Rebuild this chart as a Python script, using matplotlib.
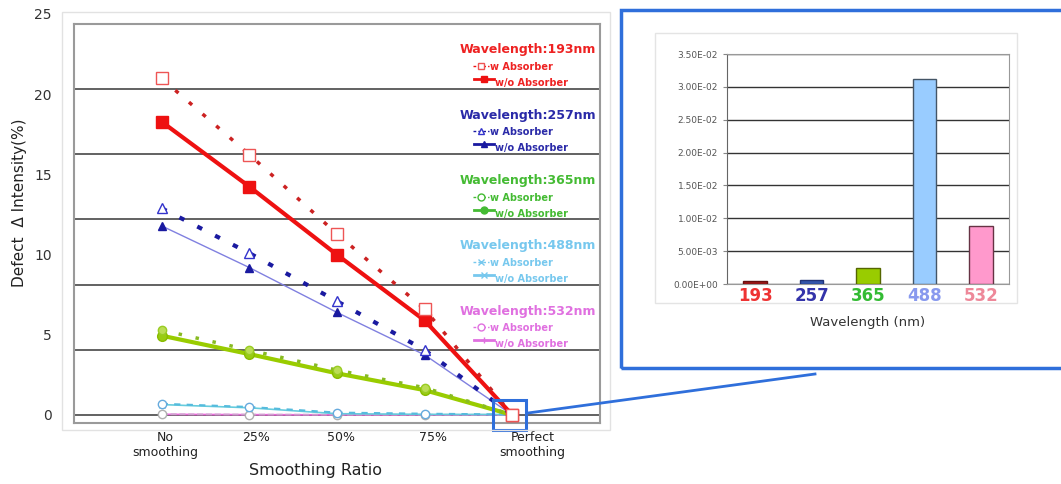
import numpy as np
import matplotlib
matplotlib.use("Agg")
import matplotlib.pyplot as plt
from matplotlib.lines import Line2D
from matplotlib.patches import Rectangle
from matplotlib.ticker import FuncFormatter

W, H = 1061, 484

# ---- data -------------------------------------------------------------
ratios = ["No\nsmoothing", "25%", "50%", "75%", "Perfect\nsmoothing"]
wavelengths = ["193", "257", "365", "488", "532"]

# residual defect intensity at perfect smoothing (inset bars)
perfect_vals = [4.0e-4, 6.0e-4, 2.4e-3, 3.12e-2, 8.8e-3]

w193_abs = [21.0, 16.25, 11.3, 6.6, perfect_vals[0]]
w193_noabs = [18.3, 14.25, 10.0, 5.9, perfect_vals[0]]
w257_abs = [12.9, 10.1, 7.1, 4.05, perfect_vals[1]]
w257_noabs = [11.8, 9.2, 6.4, 3.75, perfect_vals[1]]
w365_abs = [5.3, 4.05, 2.8, 1.7, perfect_vals[2]]
w365_noabs = [4.95, 3.8, 2.6, 1.55, perfect_vals[2]]
w488_abs = [0.7, 0.5, 0.15, 0.08, perfect_vals[3]]
w488_noabs = [0.65, 0.45, 0.08, 0.04, perfect_vals[3]]
w532_abs = [0.05, 0.03, 0.02, 0.02, perfect_vals[4]]
w532_noabs = [0.04, 0.02, 0.01, 0.01, perfect_vals[4]]

grid_levels = [0, 4.07, 8.14, 12.2, 16.27, 20.34]


def fx(x):
    return x / W


def fy(y):
    return 1 - y / H


fig = plt.figure(figsize=(W / 100, H / 100), dpi=100)
fig.patch.set_facecolor("white")

# faint outer frame of left chart
fig.add_artist(Rectangle((fx(62), fy(430)), fx(610) - fx(62), fy(12) - fy(430),
                         transform=fig.transFigure, fill=False,
                         edgecolor="#e2e2e2", lw=1))

ax = fig.add_axes([fx(74), fy(423), fx(600) - fx(74), fy(24) - fy(423)])
x = np.arange(len(ratios))
ax.set_xlim(-1, 5)
ax.set_ylim(-0.5, 24.4)
for g in grid_levels:
    ax.axhline(g, color="#555555", lw=1.3, zorder=1)
for s in ax.spines.values():
    s.set_color("#9a9a9a")
    s.set_linewidth(1.5)

# light series (underneath)
ax.plot(x, w532_noabs, "-", color="#ee66dd", lw=1.2, marker="+", ms=6, zorder=2)
ax.plot(x, w532_abs, "--", color="#cfa0cf", lw=1.2, marker="o", ms=6,
        mfc="white", mec="#b0b0b0", zorder=2)
ax.plot(x, w488_noabs, "-", color="#66ccdd", lw=1.2, marker="x", ms=5, zorder=3)
ax.plot(x, w488_abs, ls=(0, (3, 3)), color="#55bbdd", lw=1.5, marker="o",
        ms=6, mfc="white", mec="#66aadd", zorder=3)

ax.plot(x, w365_noabs, "-", color="#99cc00", lw=3, marker="o", ms=7,
        mfc="#99cc11", mec="#88bb00", zorder=4)
ax.plot(x, w365_abs, ls=(0, (1, 4)), color="#88bb22", lw=2.5, marker="o",
        ms=6, mfc="#bbdd55", mec="#99cc22", zorder=4)

ax.plot(x, w257_noabs, "-", color="#8080e0", lw=1, marker="^", ms=6,
        mfc="#1a1aa0", mec="#1a1aa0", zorder=5)
ax.plot(x, w257_abs, ls=(0, (1.3, 3.5)), color="#1a1aa0", lw=3, marker="^",
        ms=7, mfc="white", mec="#3333cc", zorder=5)

ax.plot(x, w193_noabs, "-", color="#ee1111", lw=3, marker="s", ms=8,
        mfc="#ee1111", mec="#ee1111", zorder=6)
ax.plot(x, w193_abs, ls=(0, (1.2, 4)), color="#cc2222", lw=2.5, marker="s",
        ms=8, mfc="white", mec="#ee5555", zorder=6)

# highlight box around perfect smoothing point
ax.add_patch(Rectangle((3.78, -0.95), 0.38, 1.9, fill=False,
                       edgecolor="#2f6fdb", lw=2.2, clip_on=False, zorder=8))

ax.set_yticks([0, 5, 10, 15, 20])
ax.set_yticklabels(["0", "5", "10", "15", "20"])
ax.tick_params(axis="y", length=0, pad=16, labelsize=10, labelcolor="#333333")
ax.set_xticks(x + np.array([0.04, 0.08, 0.05, 0.1, 0.23]))
ax.set_xticklabels(ratios, fontsize=9, color="#222222", ha="center")
ax.tick_params(axis="x", length=0, pad=6)
ax.set_xlabel("Smoothing Ratio", fontsize=11.5, color="#222222")
ax.xaxis.set_label_coords(0.46, -0.1)
fig.text(fx(43), fy(15), "25", fontsize=10, color="#333333",
         ha="center", va="center")
fig.text(fx(20), fy(203), "Defect  \u0394 Intensity(%)", rotation=90,
         fontsize=11, color="#222222", ha="center", va="center")

# ---- legend blocks -----------------------------------------------------
groups = [
    ("193", "#ee2222", dict(marker="s", mfc="white", mec="#ee5555"),
     dict(marker="s", mfc="#ee1111", mec="#ee1111"), "#ee1111"),
    ("257", "#2a2aa8", dict(marker="^", mfc="white", mec="#3333cc"),
     dict(marker="^", mfc="#1a1aa0", mec="#1a1aa0"), "#1a1aa0"),
    ("365", "#44bb33", dict(marker="o", mfc="white", mec="#44bb33"),
     dict(marker="o", mfc="#44bb33", mec="#44bb33"), "#44bb33"),
    ("488", "#77c8ee", dict(marker="x", mfc="white", mec="#77c8ee"),
     dict(marker="x", mfc="#77c8ee", mec="#77c8ee"), "#77c8ee"),
    ("532", "#e070e0", dict(marker="o", mfc="white", mec="#e070e0"),
     dict(marker="+", mfc="#e070e0", mec="#e070e0"), "#e070e0"),
]
for i, (wl, col, mk_w, mk_wo, lcol) in enumerate(groups):
    y0 = 50 + i * 65.3
    fig.text(fx(596), fy(y0), f"Wavelength:{wl}nm", fontsize=9,
             fontweight="bold", color=col, ha="right", va="center")
    fig.text(fx(490), fy(y0 + 17), "w Absorber", fontsize=7,
             fontweight="bold", color=col, ha="left", va="center")
    fig.text(fx(495), fy(y0 + 33), "w/o Absorber", fontsize=7,
             fontweight="bold", color=col, ha="left", va="center")
    fig.add_artist(Line2D([fx(473), fx(489)], [fy(y0 + 16), fy(y0 + 16)],
                          transform=fig.transFigure, color=lcol, lw=1,
                          ls=(0, (2, 1.5))))
    fig.add_artist(Line2D([fx(481)], [fy(y0 + 16)], transform=fig.transFigure,
                          ls="none", ms=5, **mk_w))
    fig.add_artist(Line2D([fx(474), fx(494)], [fy(y0 + 29), fy(y0 + 29)],
                          transform=fig.transFigure, color=lcol, lw=2))
    fig.add_artist(Line2D([fx(484)], [fy(y0 + 29)], transform=fig.transFigure,
                          ls="none", ms=5, **mk_wo))

# ---- inset: bar chart --------------------------------------------------
fig.add_artist(Rectangle((fx(621), fy(368)), fx(1075) - fx(621),
                         fy(10) - fy(368), transform=fig.transFigure,
                         fill=False, edgecolor="#2f6fdb", lw=2.5))
fig.add_artist(Rectangle((fx(655), fy(303)), fx(1017) - fx(655),
                         fy(33) - fy(303), transform=fig.transFigure,
                         fill=False, edgecolor="#e4e4e4", lw=1))
fig.add_artist(Line2D([fx(528), fx(815)], [fy(413), fy(374)],
                      transform=fig.transFigure, color="#2f6fdb", lw=2))

bar_colors = ["#a01818", "#3355aa", "#99cc00", "#99ccff", "#ff99cc"]
bar_edges = ["#661010", "#223377", "#556600", "#445566", "#663344"]
label_colors = ["#ee3333", "#3333aa", "#33bb33", "#8899ee", "#ee8899"]

bx = fig.add_axes([fx(727), fy(284), fx(1009) - fx(727), fy(54) - fy(284)])
bpos = np.arange(len(wavelengths))
bx.bar(bpos, perfect_vals, width=0.42, color=bar_colors,
       edgecolor=bar_edges, lw=1, zorder=3)
bx.set_xlim(-0.5, 4.5)
bx.set_ylim(0, 0.035)
bx.set_yticks(np.arange(0, 0.0351, 0.005))
bx.yaxis.set_major_formatter(FuncFormatter(lambda v, p: f"{v:.2E}"))
bx.tick_params(axis="y", labelsize=6.5, labelcolor="#555555", length=3,
               color="#888888")
bx.grid(axis="y", color="#333333", lw=1, zorder=0)
for s in bx.spines.values():
    s.set_color("#999999")
bx.spines["left"].set_color("#666666")
bx.set_xticks(bpos)
bx.set_xticklabels(wavelengths, fontsize=12, fontweight="bold")
for t, c in zip(bx.get_xticklabels(), label_colors):
    t.set_color(c)
bx.tick_params(axis="x", length=0, pad=2)
bx.set_xlabel("Wavelength (nm)", fontsize=9.5, color="#333333", labelpad=8)

fig.savefig("out.png", dpi=100)
